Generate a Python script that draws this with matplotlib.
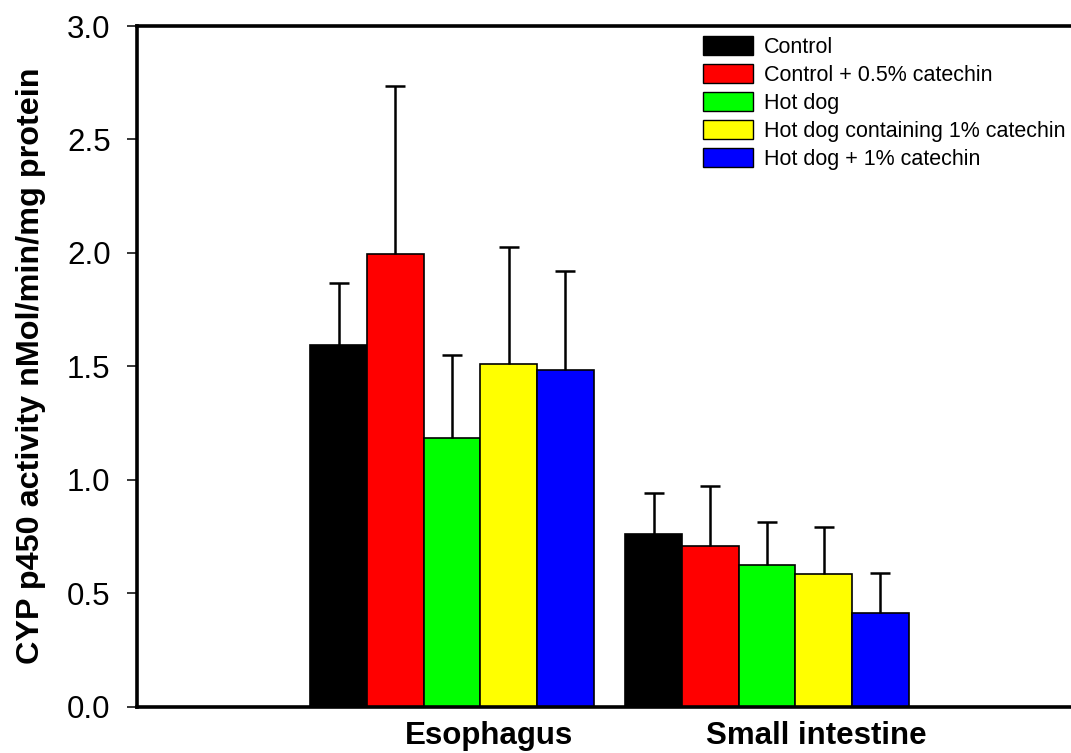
import matplotlib
matplotlib.use("Agg")
import matplotlib.pyplot as plt
import numpy as np
from matplotlib.transforms import blended_transform_factory

plt.rcParams['font.family'] = ['Liberation Sans', 'DejaVu Sans']

# Data
tissues = ["Esophagus", "Small intestine"]
treatments = ["Control", "Control + 0.5% catechin", "Hot dog",
              "Hot dog containing 1% catechin", "Hot dog + 1% catechin"]
colors = ["#000000", "#FF0000", "#00FF00", "#FFFF00", "#0000FF"]

esophagus_mean = [1.594, 1.995, 1.185, 1.511, 1.484]
esophagus_err = [0.275, 0.741, 0.366, 0.514, 0.438]
intestine_mean = [0.759, 0.708, 0.624, 0.586, 0.412]
intestine_err = [0.184, 0.264, 0.191, 0.205, 0.178]

means = np.array([esophagus_mean, intestine_mean])
errs = np.array([esophagus_err, intestine_err])

W, H, DPI = 1071, 753, 100
fig = plt.figure(figsize=(W / DPI, H / DPI), dpi=DPI)
ax = fig.add_axes([137 / W, 1 - 706.5 / H, 945 / W, 680.5 / H])

bar_w = 0.18
group_x = np.arange(len(tissues))
n = len(treatments)
for i, (name, col) in enumerate(zip(treatments, colors)):
    xs = group_x + (i - (n - 1) / 2) * bar_w
    ax.bar(xs, means[:, i], width=bar_w, color=col, edgecolor="black",
           linewidth=1.2, label=name, zorder=2)
    _, caps, _ = ax.errorbar(xs, means[:, i],
                             yerr=[np.zeros(len(tissues)), errs[:, i]],
                             fmt="none", ecolor="black", elinewidth=1.8,
                             capsize=7.5, capthick=1.8, zorder=3)
    # upper error only: hide the cap sitting on the bar top
    caps[0].set_visible(False)

ax.set_xlim(-1.0, 2.0)
ax.set_ylim(0, 3.0)
ax.set_yticks(np.arange(0, 3.01, 0.5))
ax.set_yticklabels([f"{v:.1f}" for v in np.arange(0, 3.01, 0.5)], fontsize=22.5)
ax.set_xticks([])

for side in ["left", "bottom", "top"]:
    ax.spines[side].set_linewidth(2.6)
ax.spines["right"].set_visible(False)
ax.tick_params(axis="y", direction="out", length=7, width=1.1, pad=12)

# Category labels below the axis
trans = blended_transform_factory(ax.transData, ax.transAxes)
label_x = [0.118, 1.155]
for lx, name in zip(label_x, tissues):
    ax.text(lx, -0.055, name, transform=trans, ha="center", va="baseline",
            fontsize=22.5, fontweight="bold")

fig.text(31 / W, 1 - 366 / H, "CYP p450 activity nMol/min/mg protein",
         rotation=90, ha="center", va="center", fontsize=23.3,
         fontweight="bold")

leg = ax.legend(loc="upper left", bbox_to_anchor=(703 / W, 1 - 36 / H),
                bbox_transform=fig.transFigure, frameon=False,
                fontsize=15.5, handlelength=2.33, handleheight=1.0,
                handletextpad=0.5, labelspacing=0.28, borderpad=0,
                borderaxespad=0)
for p in leg.get_patches():
    p.set_linewidth(1.0)

fig.savefig("out.png", dpi=DPI)
